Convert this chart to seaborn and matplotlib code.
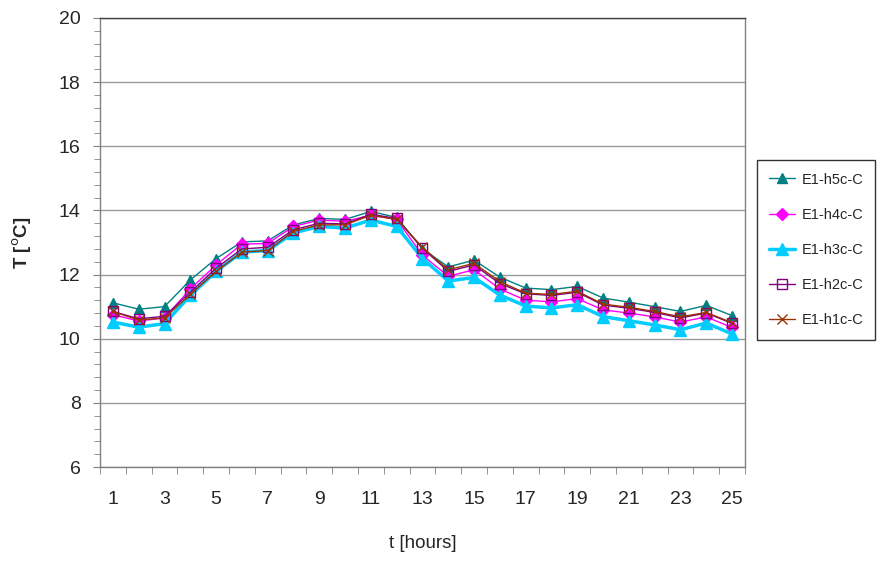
import numpy as np
import pandas as pd
import matplotlib.pyplot as plt
import seaborn as sns
from matplotlib.ticker import MultipleLocator, FixedLocator

hours = list(range(1, 26))
h5c = [11.12, 10.92, 11.0, 11.83, 12.5, 13.02, 13.05, 13.55, 13.75, 13.72, 13.97, 13.78, 12.8,
       12.24, 12.45, 11.92, 11.58, 11.53, 11.63, 11.27, 11.14, 11.0, 10.85, 11.04, 10.72]
h4c = [10.75, 10.55, 10.65, 11.55, 12.3, 12.95, 12.97, 13.5, 13.7, 13.66, 13.85, 13.72, 12.6,
       11.95, 12.15, 11.55, 11.2, 11.15, 11.25, 10.9, 10.8, 10.68, 10.52, 10.68, 10.35]
h3c = [10.52, 10.36, 10.47, 11.35, 12.1, 12.7, 12.75, 13.3, 13.5, 13.45, 13.7, 13.5, 12.5,
       11.8, 11.91, 11.36, 11.02, 10.96, 11.06, 10.69, 10.56, 10.43, 10.28, 10.49, 10.15]
h2c = [10.85, 10.62, 10.7, 11.45, 12.2, 12.8, 12.85, 13.4, 13.6, 13.58, 13.88, 13.75, 12.82,
       12.1, 12.3, 11.72, 11.4, 11.35, 11.45, 11.05, 10.95, 10.82, 10.65, 10.8, 10.48]
h1c = [10.85, 10.58, 10.65, 11.38, 12.1, 12.7, 12.75, 13.35, 13.55, 13.55, 13.85, 13.72, 12.85,
       12.15, 12.35, 11.78, 11.42, 11.38, 11.48, 11.08, 10.98, 10.85, 10.68, 10.82, 10.5]

series = [
    ('E1-h5c-C', h5c, '#008080', '^', 7, 1.0, 'full'),
    ('E1-h4c-C', h4c, '#FF00FF', 'D', 6, 1.0, 'full'),
    ('E1-h3c-C', h3c, '#00CCFF', '^', 9, 2.5, 'full'),
    ('E1-h2c-C', h2c, '#800080', 's', 7, 1.0, 'none'),
    ('E1-h1c-C', h1c, '#993300', 'x', 7, 1.0, 'full'),
]

sns.set_style('white')
plt.rcParams['font.family'] = ['Liberation Sans', 'DejaVu Sans']

fig, ax = plt.subplots(figsize=(8.78, 5.62), dpi=100)
fig.subplots_adjust(left=0.1139, right=0.8485, top=0.968, bottom=0.169)

for name, vals, col, mk, ms, lw, fill in series:
    df = pd.DataFrame({'t': hours, 'T': vals})
    sns.lineplot(x='t', y='T', data=df, ax=ax, color=col, marker=mk, markersize=ms,
                 linewidth=lw, fillstyle=fill, markeredgecolor=col,
                 markeredgewidth=1.0, label=name)

ax.set_xlim(0.5, 25.5)
ax.set_ylim(6, 20)
ax.yaxis.set_major_locator(MultipleLocator(2))
ax.yaxis.set_minor_locator(MultipleLocator(0.4))
ax.xaxis.set_major_locator(FixedLocator(list(range(1, 26, 2))))
ax.xaxis.set_minor_locator(FixedLocator(np.arange(0.5, 26, 1)))
ax.grid(axis='y', which='major', color='#999999', linewidth=1)
ax.tick_params(axis='x', which='major', length=0, pad=17, labelsize=14)
ax.tick_params(axis='x', which='minor', length=5, color='#808080', direction='out', bottom=True)
ax.tick_params(axis='y', which='major', length=5, color='#808080', direction='out', pad=9, labelsize=14, left=True)
ax.tick_params(axis='y', which='minor', length=4, color='#808080', direction='out', left=True)
for s in ax.spines.values():
    s.set_color('#808080')
    s.set_linewidth(1)
ax.spines['top'].set_color('#404040')

ax.set_xlabel('t [hours]', fontsize=13.5, labelpad=20)
ax.set_ylabel('T [$^{\\mathrm{o}}$C]', fontsize=13.5, fontweight='bold', labelpad=18)

leg = ax.legend(loc='upper left', bbox_to_anchor=(0.862, 0.715), bbox_transform=fig.transFigure,
                borderaxespad=0, frameon=True, fancybox=False, fontsize=10.5,
                labelspacing=1.45, handlelength=1.8, borderpad=0.85, handletextpad=0.4)
leg.get_frame().set_edgecolor('black')
leg.get_frame().set_linewidth(1)

plt.savefig('out.png')
